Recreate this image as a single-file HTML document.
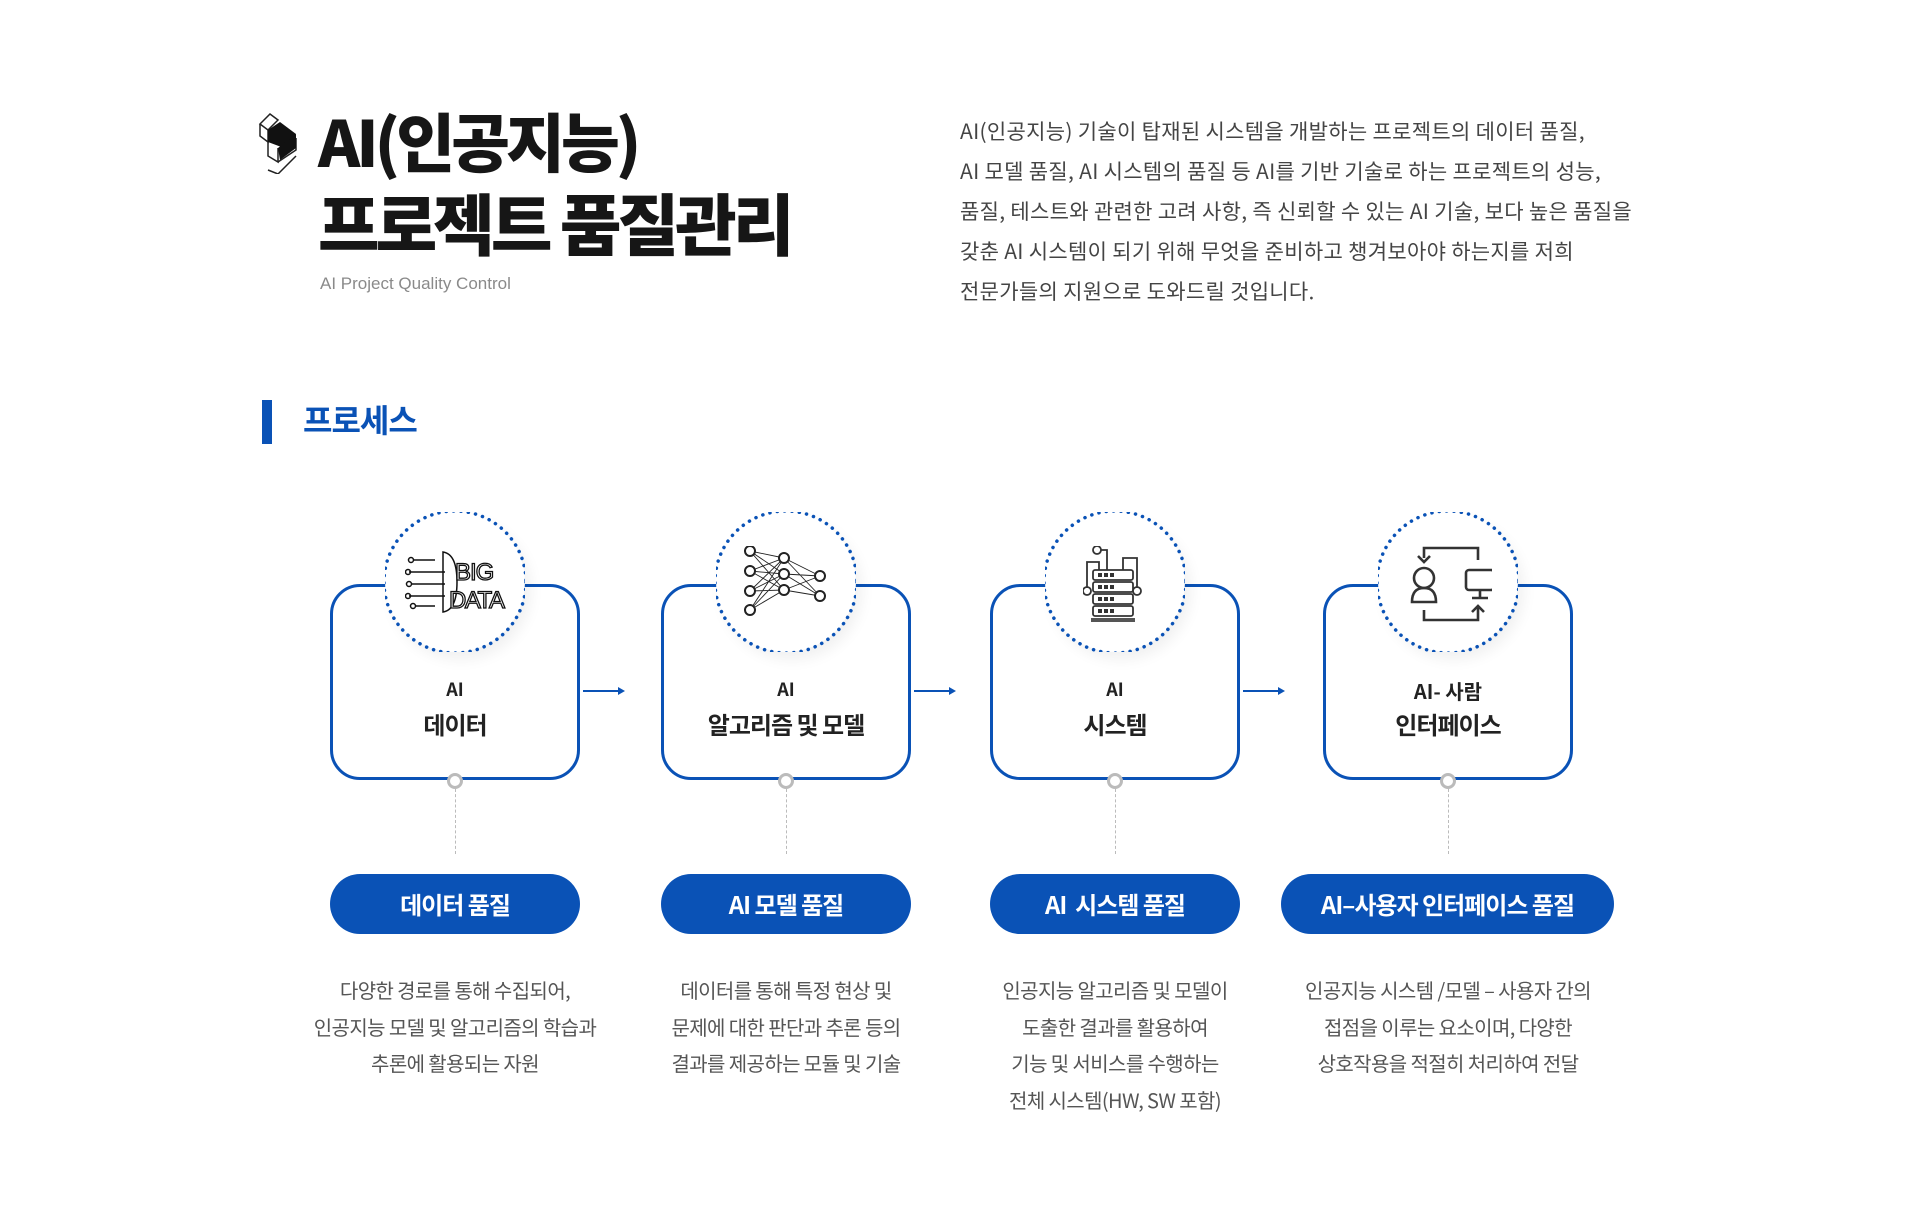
<!DOCTYPE html>
<html><head><meta charset="utf-8"><style>
body{margin:0;width:1920px;height:1230px;background:#fff;position:relative;overflow:hidden;font-family:"Liberation Sans","Noto Sans CJK KR",sans-serif}
.a{position:absolute}
.t{font-family:"Noto Sans CJK KR",sans-serif;font-weight:900;font-size:64px;color:#161616;letter-spacing:-4px;line-height:1;white-space:nowrap}
.para{left:960px;top:111px;font-family:"Noto Sans CJK KR",sans-serif;font-size:21px;color:#444;line-height:40px;letter-spacing:0.3px;white-space:nowrap}
.box{width:244px;height:190px;border:3px solid #0a52b6;border-radius:30px;top:584px;background:#fff}
.circ{width:140px;height:140px;border-radius:50%;background:#fff;box-shadow:6px 8px 14px rgba(0,0,0,.06);top:512px}
.circ svg.ring{position:absolute;left:0;top:0}
.lbl{width:250px;text-align:center;font-family:"Noto Sans CJK KR",sans-serif;color:#222;white-space:nowrap}
.pill{height:60px;top:874px;border-radius:30px;background:#0a52b6;color:#fff;font-family:"Noto Sans CJK KR",sans-serif;font-weight:700;font-size:24px;line-height:60px;text-align:center;letter-spacing:-1px}
.desc{width:400px;text-align:center;font-family:"Noto Sans CJK KR",sans-serif;font-size:20px;color:#555;line-height:36.5px;letter-spacing:-0.6px;top:972px;white-space:nowrap}
.dot{width:10px;height:10px;border-radius:50%;border:3px solid #bbb;background:#fff;top:773px}
.dash{width:0;border-left:1px dashed #bbb;top:789px;height:65px}
.arr{top:690px;height:2px;width:36px;background:#0a52b6}
.arr:after{content:"";position:absolute;right:-6px;top:-3px;border-left:7px solid #0a52b6;border-top:4px solid transparent;border-bottom:4px solid transparent}
</style></head><body>

<svg class="a" style="left:258px;top:112px" width="46" height="62" viewBox="0 0 46 62">
<g stroke="#222" stroke-width="1.5" fill="none">
<path d="M2 12 L12 2 L20 8 L10 18 Z"/><path d="M2 12 L2 24 L10 30 L10 18"/>
<path d="M10 30 L10 44 L20 50 L20 36"/><path d="M20 50 L38 38 L38 26"/><path d="M10 58 L20 62 L38 44"/>
</g>
<path d="M10 18 L22 10 L38 22 L26 36 L10 30 Z" fill="#111"/>
<path d="M20 36 L38 22 L38 36 L22 48 Z" fill="#111"/>
</svg>
<div class="a t" style="left:318px;top:108px">AI(인공지능)</div>
<div class="a t" style="left:318px;top:188px;font-size:67px;letter-spacing:-4px">프로젝트 품질관리</div>
<div class="a" style="left:320px;top:274px;font-size:17px;color:#8a8a8a">AI Project Quality Control</div>

<div class="a para">AI(인공지능) 기술이 탑재된 시스템을 개발하는 프로젝트의 데이터 품질,<br>AI 모델 품질, AI 시스템의 품질 등 AI를 기반 기술로 하는 프로젝트의 성능,<br>품질, 테스트와 관련한 고려 사항, 즉 신뢰할 수 있는 AI 기술, 보다 높은 품질을<br>갖춘 AI 시스템이 되기 위해 무엇을 준비하고 챙겨보아야 하는지를 저희<br>전문가들의 지원으로 도와드릴 것입니다.</div>

<div class="a" style="left:262px;top:400px;width:10px;height:44px;background:#0a52b6"></div>
<div class="a" style="left:303px;top:396px;font-family:'Noto Sans CJK KR',sans-serif;font-weight:700;font-size:32px;color:#0a52b6;letter-spacing:-1px">프로세스</div>

<div class="a box" style="left:330px"></div>
<div class="a box" style="left:661px"></div>
<div class="a box" style="left:990px"></div>
<div class="a box" style="left:1323px"></div>

<div class="a arr" style="left:583px"></div>
<div class="a arr" style="left:914px"></div>
<div class="a arr" style="left:1243px"></div>

<div class="a circ" style="left:385px"><svg class="ring" width="140" height="140"><circle cx="70" cy="70" r="71" fill="none" stroke="#0a52b6" stroke-width="3.5" stroke-dasharray="0.1 7.3" stroke-linecap="round"/></svg>
<svg class="a" style="left:20px;top:38px" width="104" height="64" viewBox="0 0 104 64"><g stroke="#111" stroke-width="1.5" fill="none">
<path d="M38 2 Q52 4 52 32 Q52 60 38 62 Z"/>
<path d="M8 10 H30 M4 22 H40 M6 34 H40 M4 46 H40 M10 56 H30"/><circle cx="6" cy="10" r="2.5"/><circle cx="3" cy="22" r="2.5"/><circle cx="4" cy="34" r="2.5"/><circle cx="3" cy="46" r="2.5"/><circle cx="8" cy="56" r="2.5"/></g>
<text x="50" y="30" font-family="Liberation Sans" font-size="24" fill="#fff" stroke="#111" stroke-width="1.3" letter-spacing="-1">BIG</text>
<text x="44" y="58" font-family="Liberation Sans" font-size="24" fill="#fff" stroke="#111" stroke-width="1.3" letter-spacing="-1.5">DATA</text></svg></div>

<div class="a circ" style="left:716px"><svg class="ring" width="140" height="140"><circle cx="70" cy="70" r="71" fill="none" stroke="#0a52b6" stroke-width="3.5" stroke-dasharray="0.1 7.3" stroke-linecap="round"/></svg>
<svg class="a" style="left:28px;top:34px" width="90" height="72" viewBox="0 0 90 72"><g stroke="#222" stroke-width="0.9">
<path d="M6 5 L40 12 M6 5 L40 44 M6 5 L40 28 M6 25 L40 12 M6 25 L40 28 M6 25 L40 44 M6 45 L40 12 M6 45 L40 28 M6 45 L40 44 M6 64 L40 12 M6 64 L40 28 M6 64 L40 44 M40 12 L76 30 M40 12 L76 50 M40 28 L76 30 M40 28 L76 50 M40 44 L76 30 M40 44 L76 50"/></g>
<g fill="#fff" stroke="#222" stroke-width="2"><circle cx="6" cy="5" r="5"/><circle cx="6" cy="25" r="5"/><circle cx="6" cy="45" r="5"/><circle cx="6" cy="64" r="5"/><circle cx="40" cy="12" r="5"/><circle cx="40" cy="28" r="5"/><circle cx="40" cy="44" r="5"/><circle cx="76" cy="30" r="5"/><circle cx="76" cy="50" r="5"/></g></svg></div>

<div class="a circ" style="left:1045px"><svg class="ring" width="140" height="140"><circle cx="70" cy="70" r="71" fill="none" stroke="#0a52b6" stroke-width="3.5" stroke-dasharray="0.1 7.3" stroke-linecap="round"/></svg>
<svg class="a" style="left:38px;top:34px" width="70" height="80" viewBox="0 0 70 80"><g stroke="#333" stroke-width="1.8" fill="none">
<circle cx="14" cy="4" r="4"/><path d="M18 4 H24 V24 M4 42 V16 H16 V24 M40 24 V12 H54 V42"/><circle cx="4" cy="45" r="4"/><circle cx="54" cy="45" r="4"/>
<rect x="10" y="24" width="40" height="10" rx="2"/><rect x="10" y="36" width="40" height="10" rx="2"/><rect x="10" y="48" width="40" height="10" rx="2"/><rect x="10" y="60" width="40" height="10" rx="2"/></g>
<rect x="8" y="72" width="44" height="4" fill="#555"/>
<g fill="#333"><rect x="15" y="27" width="4" height="4"/><rect x="21" y="27" width="4" height="4"/><rect x="27" y="27" width="4" height="4"/><rect x="15" y="39" width="4" height="4"/><rect x="21" y="39" width="4" height="4"/><rect x="27" y="39" width="4" height="4"/><rect x="15" y="51" width="4" height="4"/><rect x="21" y="51" width="4" height="4"/><rect x="27" y="51" width="4" height="4"/><rect x="15" y="63" width="4" height="4"/><rect x="21" y="63" width="4" height="4"/><rect x="27" y="63" width="4" height="4"/></g></svg></div>

<div class="a circ" style="left:1378px"><svg class="ring" width="140" height="140"><circle cx="70" cy="70" r="71" fill="none" stroke="#0a52b6" stroke-width="3.5" stroke-dasharray="0.1 7.3" stroke-linecap="round"/></svg>
<svg class="a" style="left:30px;top:34px" width="84" height="80" viewBox="0 0 84 80"><g stroke="#333" stroke-width="2.6" fill="none">
<path d="M70 14 V2 H16 V12"/><path d="M10 10 L16 16 L22 10"/>
<circle cx="16" cy="32" r="10"/><path d="M4 56 Q4 42 16 42 Q28 42 28 56 Z"/>
<rect x="58" y="24" width="28" height="20" rx="3"/><path d="M72 44 V52 M64 52 H80"/>
<path d="M16 64 V74 H70 V62"/><path d="M64 66 L70 60 L76 66"/></g></svg></div>

<div class="a lbl" style="left:330px;top:676px;font-weight:700;font-size:18px">AI</div>
<div class="a lbl" style="left:330px;top:706px;font-weight:700;font-size:24px;letter-spacing:-1px">데이터</div>
<div class="a lbl" style="left:661px;top:676px;font-weight:700;font-size:18px">AI</div>
<div class="a lbl" style="left:661px;top:706px;font-weight:700;font-size:24px;letter-spacing:-1px">알고리즘 및 모델</div>
<div class="a lbl" style="left:990px;top:676px;font-weight:700;font-size:18px">AI</div>
<div class="a lbl" style="left:990px;top:706px;font-weight:700;font-size:24px;letter-spacing:-1px">시스템</div>
<div class="a lbl" style="left:1323px;top:676px;font-weight:700;font-size:20px">AI- 사람</div>
<div class="a lbl" style="left:1323px;top:706px;font-weight:700;font-size:24px;letter-spacing:-1px">인터페이스</div>

<div class="a dot" style="left:447px"></div><div class="a dash" style="left:455px"></div>
<div class="a dot" style="left:778px"></div><div class="a dash" style="left:786px"></div>
<div class="a dot" style="left:1107px"></div><div class="a dash" style="left:1115px"></div>
<div class="a dot" style="left:1440px"></div><div class="a dash" style="left:1448px"></div>

<div class="a pill" style="left:330px;width:250px">데이터 품질</div>
<div class="a pill" style="left:661px;width:250px">AI 모델 품질</div>
<div class="a pill" style="left:990px;width:250px">AI &nbsp;시스템 품질</div>
<div class="a pill" style="left:1281px;width:333px">AI–사용자 인터페이스 품질</div>

<div class="a desc" style="left:255px">다양한 경로를 통해 수집되어,<br>인공지능 모델 및 알고리즘의 학습과<br>추론에 활용되는 자원</div>
<div class="a desc" style="left:586px">데이터를 통해 특정 현상 및<br>문제에 대한 판단과 추론 등의<br>결과를 제공하는 모듈 및 기술</div>
<div class="a desc" style="left:915px">인공지능 알고리즘 및 모델이<br>도출한 결과를 활용하여<br>기능 및 서비스를 수행하는<br>전체 시스템(HW, SW 포함)</div>
<div class="a desc" style="left:1248px">인공지능 시스템 /모델 – 사용자 간의<br>접점을 이루는 요소이며, 다양한<br>상호작용을 적절히 처리하여 전달</div>
</body></html>
